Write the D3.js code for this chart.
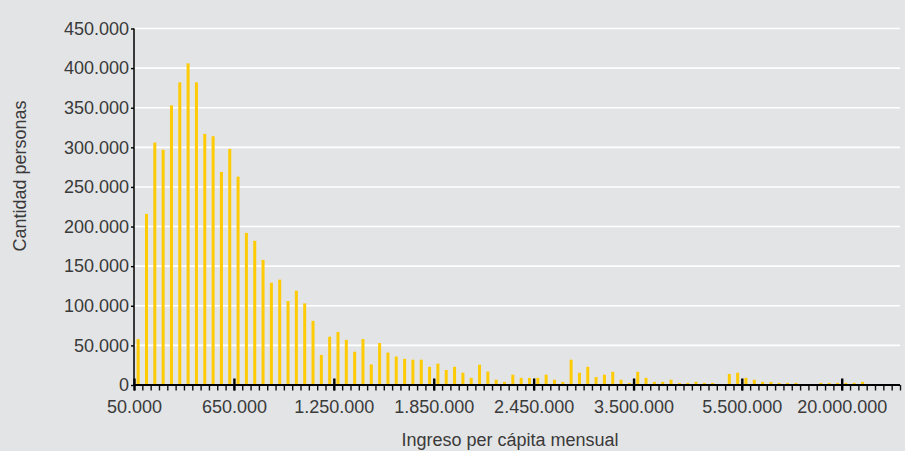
<!DOCTYPE html>
<html lang="es">
<head>
  <meta charset="utf-8">
  <title>Ingreso per cápita mensual</title>
  <script src="https://d3js.org/d3.v7.min.js"></script>
  <style>
    html, body {
      margin: 0;
      padding: 0;
      background: #e3e4e6;
    }
    svg { display: block; }
    text {
      font-family: "Liberation Sans Narrow", "Arial Narrow", "Liberation Sans", sans-serif;
      fill: #3a3a3a;
    }
  </style>
</head>
<body>
  <svg id="chart" width="905" height="451"></svg>

  <script>
    // Persons per income bin (92 bins)
    const personas = [
      58000, 216000, 306000, 297000, 353000, 382000, 406000, 382000, 317000, 314000,
      269000, 298000, 263000, 192000, 182000, 158000, 129000, 133000, 106000, 119000,
      103000, 81000, 38000, 61000, 67000, 57000, 42000, 58000, 26000, 53000,
      41000, 36000, 33000, 32000, 32000, 23000, 27000, 19000, 23000, 15500,
      9000, 25600, 17000, 6700, 4000, 13000, 9000, 9000, 9000, 13000,
      6700, 4000, 32000, 15500, 23000, 10000, 13000, 16700, 6700, 2700,
      16700, 9000, 4000, 4000, 6700, 2700, 2700, 4000, 2700, 2700,
      0, 14000, 15500, 9000, 6700, 4000, 4000, 2700, 2700, 2700,
      0, 0, 2700, 2700, 2700, 2700, 2700, 4000, 0, 0,
      0, 0
    ];

    // Labelled bin boundaries and their labels
    const labelBounds = [0, 12, 24, 36, 48, 60, 73, 85];
    const labels = ['50.000', '650.000', '1.250.000', '1.850.000', '2.450.000', '3.500.000', '5.500.000', '20.000.000'];

    const yTicks = d3.range(0, 450001, 50000);

    const fmt = d3.formatLocale({ decimal: ',', thousands: '.', grouping: [3], currency: ['$', ''] }).format(',d');

    const m = { left: 134, right: 900, top: 28.5, bottom: 385 };
    const n = personas.length;

    const svg = d3.select('#chart');

    const x = d3.scaleBand().domain(d3.range(n)).range([m.left, m.right]).paddingInner(0.64).paddingOuter(0.32);
    const xb = d3.scaleLinear().domain([0, n]).range([m.left, m.right]);
    const y = d3.scaleLinear().domain([0, 450000]).range([m.bottom, m.top]);

    // gridlines
    svg.append('g')
      .selectAll('line')
      .data(yTicks.filter(d => d > 0))
      .enter().append('line')
        .attr('x1', m.left).attr('x2', m.right)
        .attr('y1', d => y(d)).attr('y2', d => y(d))
        .attr('stroke', '#fff')
        .attr('stroke-width', 1.6);

    // bars
    svg.append('g')
      .selectAll('rect')
      .data(personas)
      .enter().append('rect')
        .attr('x', (d, i) => x(i))
        .attr('y', d => y(d))
        .attr('width', x.bandwidth())
        .attr('height', d => m.bottom - y(d))
        .attr('fill', '#ffcb05');

    // minor ticks on every bin boundary
    const minor = svg.append('g')
      .attr('transform', `translate(0,${m.bottom})`)
      .call(d3.axisBottom(xb).tickValues(d3.range(n + 1)).tickSize(5.5).tickFormat(''));
    minor.select('.domain').remove();
    minor.selectAll('line').attr('stroke', '#111').attr('stroke-width', 1.4);

    // major ticks + labels
    const major = svg.append('g')
      .attr('transform', `translate(0,${m.bottom})`)
      .call(d3.axisBottom(xb).tickValues(labelBounds).tickSize(5.5).tickPadding(10)
        .tickFormat((d, i) => labels[i]));
    major.select('.domain').remove();
    major.selectAll('line').attr('y1', -6.5).attr('stroke', '#000').attr('stroke-width', 2.4);
    major.selectAll('text').attr('font-size', 18).style('fill', '#3a3a3a');

    // x axis line
    svg.append('line')
      .attr('x1', m.left).attr('x2', m.right)
      .attr('y1', m.bottom).attr('y2', m.bottom)
      .attr('stroke', '#000').attr('stroke-width', 2);

    // y axis
    const ya = svg.append('g')
      .attr('transform', `translate(${m.left},0)`)
      .call(d3.axisLeft(y).tickValues(yTicks).tickSize(3).tickPadding(2).tickFormat(fmt));
    ya.select('.domain').attr('stroke', '#000').attr('stroke-width', 1.5)
      .attr('d', `M0,${m.top}V${m.bottom}`);
    ya.selectAll('line').attr('stroke', '#000').attr('stroke-width', 1.4);
    ya.selectAll('text').attr('font-size', 18).style('fill', '#3a3a3a');

    // titles
    svg.append('text')
      .attr('transform', 'translate(26,176) rotate(-90)')
      .attr('text-anchor', 'middle')
      .attr('font-size', 18)
      .text('Cantidad personas');

    svg.append('text')
      .attr('x', 510).attr('y', 446)
      .attr('text-anchor', 'middle')
      .attr('font-size', 18)
      .text('Ingreso per cápita mensual');
  </script>
</body>
</html>
